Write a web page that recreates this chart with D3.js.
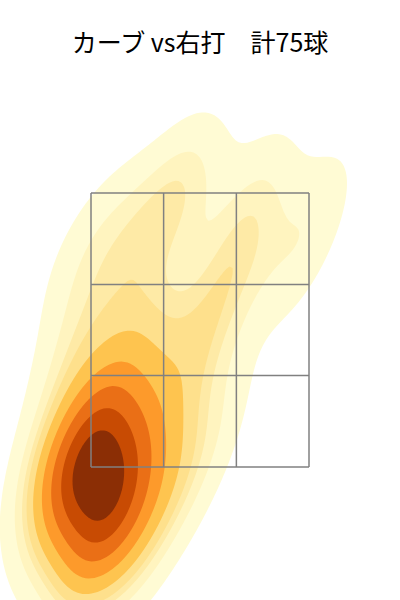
<!DOCTYPE html>
<html>
<head>
<meta charset="utf-8">
<script src="https://cdn.jsdelivr.net/npm/d3@7"></script>
<style>
  body { margin: 0; background: #fff; }
  svg { display: block; }
</style>
</head>
<body>
<svg id="chart" width="400" height="600"></svg>
<script>
// Pitch locations (plate_x ft, plate_z ft)
const plateX = [
  -0.80, -0.92, -0.68, -1.00, -0.95, -0.85, -0.75, -0.95, -0.65, -0.60,
  -0.55, -0.88, -0.72, -0.98, -0.78, -0.62, -0.70, -0.85, -0.92, -0.90,
  -0.85, -1.10, -0.70, 0.70, -0.52, -1.08, -0.75, -0.68, -0.88, -0.80,
  -1.10, -0.45, -0.45, -0.72, -1.15, -0.80, -0.35, -0.50, -1.20, -0.50,
  -0.55, -0.90, -0.35, -0.25, -0.70,
  -0.80, -0.60, -0.95, -0.55, -0.78, -0.50, -1.00, -0.55, -0.75, -0.30,
  -0.15, 0.00, -0.22, 0.10, 0.20, -0.20, 0.35, 0.00, -0.30, 0.10,
  0.70, 0.95, 0.45, -0.05, -0.15, 0.35, -0.40, -0.15, -1.05, 0.15
];
const plateZ = [
  1.45, 1.35, 1.60, 1.25, 1.62, 1.60, 1.33, 1.50, 1.45, 1.12,
  1.55, 1.70, 1.20, 1.40, 1.77, 1.35, 0.98, 1.23, 1.75, 1.85,
  0.98, 1.40, 1.10, 2.95, 1.43, 1.60, 1.50, 1.73, 1.43, 1.13,
  1.15, 1.25, 1.80, 1.95, 1.70, 0.90, 1.55, 1.00, 1.50, 2.00,
  0.80, 0.88, 1.05, 1.65, 0.85,
  2.15, 2.30, 2.40, 2.60, 2.75, 3.05, 2.95, 3.30, 3.25, 3.40,
  2.05, 2.35, 2.60, 2.75, 2.95, 3.50, 3.10, 3.45, 2.25, 2.45,
  3.20, 3.45, 3.55, 1.55, 3.60, 3.35, 2.60, 1.35, 2.25, 1.90
];

// strike zone edges (ft)
const zoneX = [-0.83, -0.277, 0.277, 0.83];
const zoneZ = [1.5, 2.167, 2.833, 3.5];

// iso-proportion levels (like seaborn levels=10, thresh=0.05)
const isoProps = d3.range(10).map(i => 0.05 + i * 0.95 / 9);
const bandColors = [
  "#fffbd4", "#fff4bf", "#feeaa6", "#fee08c", "#fec44f",
  "#fd9a2b", "#ea6f16", "#c84b03", "#8b2e05"
];

const title = "カーブ vs右打\u3000計75球";

const width = 400, height = 600;
const svg = d3.select("#chart");

const x = d3.scaleLinear().domain([-0.83, 0.83]).range([91, 309]);
const y = d3.scaleLinear().domain([1.5, 3.5]).range([467, 193]);

// ---- gaussian kde with full covariance (scott factor) ----
const n = plateX.length;
const mx = d3.mean(plateX), mz = d3.mean(plateZ);
let sxx = 0, szz = 0, sxz = 0;
for (let i = 0; i < n; i++) {
  const dx = plateX[i] - mx, dz = plateZ[i] - mz;
  sxx += dx * dx; szz += dz * dz; sxz += dx * dz;
}
sxx /= (n - 1); szz /= (n - 1); sxz /= (n - 1);
const f2 = Math.pow(n, -2 / 6);
const a = sxx * f2, c = szz * f2, b = sxz * f2;
const det = a * c - b * b;
const ia = c / det, ic = a / det, ib = -b / det;

function kde(px, pz) {
  let s = 0;
  for (let i = 0; i < n; i++) {
    const dx = px - plateX[i], dz = pz - plateZ[i];
    s += Math.exp(-0.5 * (ia * dx * dx + 2 * ib * dx * dz + ic * dz * dz));
  }
  return s / (n * 2 * Math.PI * Math.sqrt(det));
}

// grid in pixel space, wider than the canvas so the mass levels are right
const step = 3;
const gx0 = -240, gy0 = -240;
const nx = Math.ceil((width + 480) / step) + 1;
const ny = Math.ceil((height + 480) / step) + 1;
const values = new Float64Array(nx * ny);
for (let j = 0; j < ny; j++) {
  const pz = y.invert(gy0 + j * step);
  for (let i = 0; i < nx; i++) {
    values[j * nx + i] = kde(x.invert(gx0 + i * step), pz);
  }
}

const sorted = Array.from(values).sort((p, q) => q - p);
const total = d3.sum(sorted);
const cum = [];
let acc = 0;
for (const v of sorted) { acc += v; cum.push(acc / total); }
const levels = isoProps.slice(0, 9).map(p => {
  const idx = d3.bisectLeft(cum, 1 - p);
  return sorted[Math.min(idx, sorted.length - 1)];
});

const contours = d3.contours().size([nx, ny]).thresholds(levels)(values);

const path = d3.geoPath(d3.geoIdentity().scale(step).translate([gx0, gy0]));

svg.append("clipPath").attr("id", "clip")
  .append("rect").attr("width", width).attr("height", height);

svg.append("g")
  .attr("clip-path", "url(#clip)")
  .selectAll("path")
  .data(contours)
  .join("path")
    .attr("d", path)
    .attr("fill", (d, i) => bandColors[i]);

// strike zone grid
const grid = svg.append("g")
  .attr("fill", "none")
  .attr("stroke", "#808080")
  .attr("stroke-width", 1.5);

grid.selectAll("line.v")
  .data(zoneX)
  .join("line")
    .attr("class", "v")
    .attr("x1", d => x(d)).attr("x2", d => x(d))
    .attr("y1", y(zoneZ[3])).attr("y2", y(zoneZ[0]));

grid.selectAll("line.h")
  .data(zoneZ)
  .join("line")
    .attr("class", "h")
    .attr("y1", d => y(d)).attr("y2", d => y(d))
    .attr("x1", x(zoneX[0])).attr("x2", x(zoneX[3]));

svg.append("text")
  .attr("x", 200)
  .attr("y", 52)
  .attr("text-anchor", "middle")
  .attr("font-family", "'Noto Sans CJK JP', 'Noto Sans', sans-serif")
  .attr("font-size", 25)
  .attr("fill", "#000")
  .text(title);
</script>
</body>
</html>
